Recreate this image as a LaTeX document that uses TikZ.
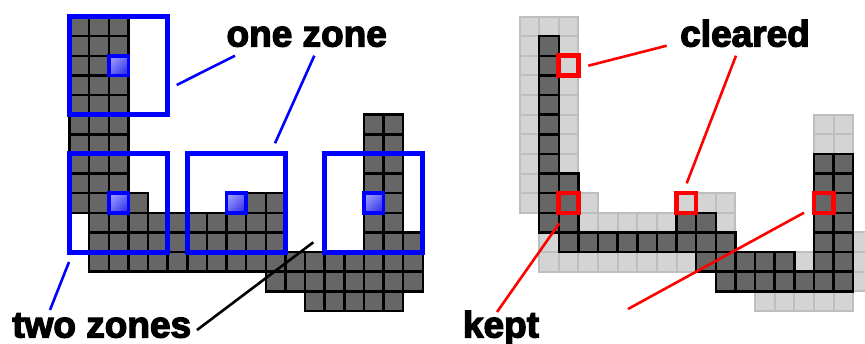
\documentclass[tikz,border=0pt]{standalone}
\usepackage{fontspec}
\usetikzlibrary{shadings}
\newfontfamily\lblfont{Liberation Sans}[BoldFeatures={FakeBold=3.5}]
\definecolor{cellgray}{HTML}{666666}
\definecolor{lgray}{HTML}{D4D4D4}
\definecolor{lline}{HTML}{BEBEBE}
\definecolor{mlight}{HTML}{A8A8FF}
\definecolor{mmid}{HTML}{6A6AF8}
\definecolor{mdark}{HTML}{2020E0}
\newcommand\gcell[4]{\path[#1] ({#2+(#3)*19.63},{16.5+(#4)*19.63}) rectangle ++(19.63,19.63);}
\newcommand\shapecells[2]{%
  \foreach \r in {0,...,9} {\gcell{#1}{#2}{0}{\r}}
  \foreach \c in {1,2} {\foreach \r in {0,...,12} {\gcell{#1}{#2}{\c}{\r}}}
  \foreach \r in {9,...,12} {\gcell{#1}{#2}{3}{\r}}
  \foreach \c in {4,...,10} {\foreach \r in {10,11,12} {\gcell{#1}{#2}{\c}{\r}}}
  \foreach \c in {8,9,10} {\gcell{#1}{#2}{\c}{9}}
  \foreach \c in {11,...,14} {\gcell{#1}{#2}{\c}{12}}
  \foreach \c in {15,16} {\foreach \r in {5,...,12} {\gcell{#1}{#2}{\c}{\r}}}
  \foreach \r in {11,12,13} {\gcell{#1}{#2}{17}{\r}}
  \foreach \c in {10,...,16} {\gcell{#1}{#2}{\c}{13}}
  \foreach \c in {12,...,16} {\gcell{#1}{#2}{\c}{14}}
}
\newcommand\zonebox[2]{\draw[zone] ({69.5+(#1-2)*19.63},{16.5+(#2-2)*19.63}) rectangle ++(98.15,98.15);}
\newcommand\marker[2]{%
  \shade[markfill] ({69.5+(#1)*19.63},{16.5+(#2)*19.63}) rectangle ++(19.63,19.63);
  \draw[markline] ({69.5+(#1)*19.63},{16.5+(#2)*19.63}) rectangle ++(19.63,19.63);}
\newcommand\redsq[2]{\draw[redbox] ({519.5+(#1)*19.63},{16.5+(#2)*19.63}) rectangle ++(19.63,19.63);}
\begin{document}
\begin{tikzpicture}[x=1pt,y=-1pt,
  darkcell/.style={fill=cellgray,draw=black,line width=2.5pt},
  lightcell/.style={fill=lgray,draw=lline,line width=2pt},
  zone/.style={draw=blue,line width=5pt},
  markfill/.style={upper left=mlight,upper right=mmid,lower left=mmid,lower right=mdark},
  markline/.style={draw=blue,line width=3.7pt},
  redbox/.style={draw=red,line width=4.6pt},
  lbl/.style={font=\lblfont\bfseries\fontsize{37}{40}\selectfont,inner sep=0pt,anchor=base},
  blueline/.style={draw=blue,line width=2.6pt},
  blackline/.style={draw=black,line width=2.6pt},
  redline/.style={draw=red,line width=2.6pt}]
\useasboundingbox (0,0) rectangle (865,343);
\clip (0,0) rectangle (865,343);
% left grid
\shapecells{darkcell}{69.5}
\zonebox{2}{2}
\zonebox{2}{9}
\zonebox{8}{9}
\zonebox{15}{9}
\marker{2}{2}
\marker{2}{9}
\marker{8}{9}
\marker{15}{9}
% right grid
\shapecells{lightcell}{519.5}
\foreach \r in {1,...,10} {\gcell{darkcell}{519.5}{1}{\r}}
\foreach \r in {8,...,11} {\gcell{darkcell}{519.5}{2}{\r}}
\foreach \c in {3,...,10} {\gcell{darkcell}{519.5}{\c}{11}}
\foreach \c in {8,9} {\gcell{darkcell}{519.5}{\c}{10}}
\foreach \c in {9,...,13} {\gcell{darkcell}{519.5}{\c}{12}}
\foreach \c in {10,...,14} {\gcell{darkcell}{519.5}{\c}{13}}
\foreach \c in {15,16} {\foreach \r in {7,...,13} {\gcell{darkcell}{519.5}{\c}{\r}}}
\redsq{2}{2}
\redsq{2}{9}
\redsq{8}{9}
\redsq{15}{9}
% labels
\node[lbl] (onezone) at (306.7,46.5) {one zone};
\node[lbl] (twozones) at (101.7,337.5) {two zones};
\node[lbl] (cleared) at (745,46.5) {cleared};
\node[lbl] (kept) at (501,337.5) {kept};
% connectors
\coordinate (oza) at (176.7,85);
\coordinate (ozb) at (235,55.7);
\coordinate (ozc) at (275,143.3);
\coordinate (ozd) at (314.3,55.7);
\coordinate (tza) at (69,262);
\coordinate (tzb) at (50,310);
\coordinate (tzc) at (313.3,242.3);
\coordinate (tzd) at (197,330);
\coordinate (cla) at (588.3,65.7);
\coordinate (clb) at (666.7,45.7);
\coordinate (clc) at (686.7,183.3);
\coordinate (cld) at (736,55.7);
\coordinate (kpa) at (559.3,223.3);
\coordinate (kpb) at (497,312);
\coordinate (kpc) at (804,212.7);
\coordinate (kpd) at (628,309);
\draw[blueline] (oza) -- (ozb);
\draw[blueline] (ozc) -- (ozd);
\draw[blueline] (tza) -- (tzb);
\draw[blackline] (tzc) -- (tzd);
\draw[redline] (cla) -- (clb);
\draw[redline] (clc) -- (cld);
\draw[redline] (kpa) -- (kpb);
\draw[redline] (kpc) -- (kpd);
\end{tikzpicture}
\end{document}
